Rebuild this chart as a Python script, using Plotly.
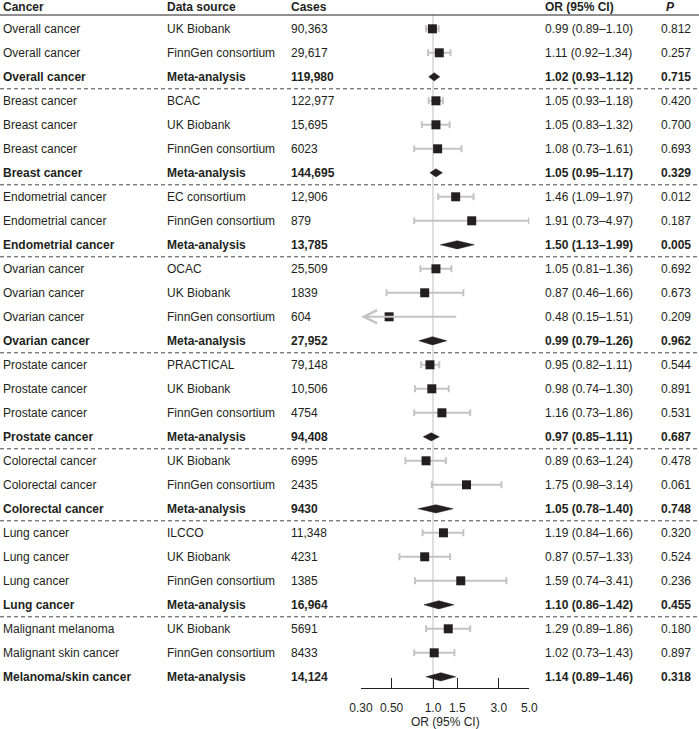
import math
import plotly.graph_objects as go

# data
cancer = [
    "Overall cancer", "Overall cancer", "Overall cancer",
    "Breast cancer", "Breast cancer", "Breast cancer", "Breast cancer",
    "Endometrial cancer", "Endometrial cancer", "Endometrial cancer",
    "Ovarian cancer", "Ovarian cancer", "Ovarian cancer", "Ovarian cancer",
    "Prostate cancer", "Prostate cancer", "Prostate cancer", "Prostate cancer",
    "Colorectal cancer", "Colorectal cancer", "Colorectal cancer",
    "Lung cancer", "Lung cancer", "Lung cancer", "Lung cancer",
    "Malignant melanoma", "Malignant skin cancer", "Melanoma/skin cancer",
]
source = [
    "UK Biobank", "FinnGen consortium", "Meta-analysis",
    "BCAC", "UK Biobank", "FinnGen consortium", "Meta-analysis",
    "EC consortium", "FinnGen consortium", "Meta-analysis",
    "OCAC", "UK Biobank", "FinnGen consortium", "Meta-analysis",
    "PRACTICAL", "UK Biobank", "FinnGen consortium", "Meta-analysis",
    "UK Biobank", "FinnGen consortium", "Meta-analysis",
    "ILCCO", "UK Biobank", "FinnGen consortium", "Meta-analysis",
    "UK Biobank", "FinnGen consortium", "Meta-analysis",
]
cases = [
    "90,363", "29,617", "119,980",
    "122,977", "15,695", "6023", "144,695",
    "12,906", "879", "13,785",
    "25,509", "1839", "604", "27,952",
    "79,148", "10,506", "4754", "94,408",
    "6995", "2435", "9430",
    "11,348", "4231", "1385", "16,964",
    "5691", "8433", "14,124",
]
or_val = [0.99, 1.11, 1.02, 1.05, 1.05, 1.08, 1.05, 1.46, 1.91, 1.50,
          1.05, 0.87, 0.48, 0.99, 0.95, 0.98, 1.16, 0.97, 0.89, 1.75, 1.05,
          1.19, 0.87, 1.59, 1.10, 1.29, 1.02, 1.14]
ci_lo = [0.89, 0.92, 0.93, 0.93, 0.83, 0.73, 0.95, 1.09, 0.73, 1.13,
         0.81, 0.46, 0.15, 0.79, 0.82, 0.74, 0.73, 0.85, 0.63, 0.98, 0.78,
         0.84, 0.57, 0.74, 0.86, 0.89, 0.73, 0.89]
ci_hi = [1.10, 1.34, 1.12, 1.18, 1.32, 1.61, 1.17, 1.97, 4.97, 1.99,
         1.36, 1.66, 1.51, 1.26, 1.11, 1.30, 1.86, 1.11, 1.24, 3.14, 1.40,
         1.66, 1.33, 3.41, 1.42, 1.86, 1.43, 1.46]
p_val = ["0.812", "0.257", "0.715", "0.420", "0.700", "0.693", "0.329",
         "0.012", "0.187", "0.005", "0.692", "0.673", "0.209", "0.962",
         "0.544", "0.891", "0.531", "0.687", "0.478", "0.061", "0.748",
         "0.320", "0.524", "0.236", "0.455", "0.180", "0.897", "0.318"]
group_sizes = [3, 4, 3, 4, 4, 3, 4, 3]
tick_vals = [0.3, 0.5, 1.0, 1.5, 3.0, 5.0]
tick_text = ["0.30", "0.50", "1.0", "1.5", "3.0", "5.0"]

x_min, x_max = 0.3, 5.0
W, H = 699, 729
row0, row_h = 28.8, 24.0

def row_of(px):
    return (px - row0) / row_h

FONT = "Liberation Sans, Arial, sans-serif"
INK = "#231f20"
FS = 12

rows = list(range(len(cancer)))
is_meta = [s == "Meta-analysis" for s in source]
study = [i for i in rows if not is_meta[i]]
meta = [i for i in rows if is_meta[i]]

fig = go.Figure()

# reference line at OR = 1
fig.add_trace(go.Scatter(
    x=[1, 1], y=[row_of(15), row_of(688)], mode="lines",
    line=dict(color="#d4d4d4", width=1.5), hoverinfo="skip", showlegend=False
))

# confidence intervals of individual studies (clipped ones become arrows)
ok = [i for i in study if ci_lo[i] >= x_min and ci_hi[i] <= x_max]
fig.add_trace(go.Scatter(
    x=[or_val[i] for i in ok], y=ok, mode="markers",
    marker=dict(size=1, color="rgba(0,0,0,0)"),
    error_x=dict(type="data", symmetric=False,
                 array=[ci_hi[i] - or_val[i] for i in ok],
                 arrayminus=[or_val[i] - ci_lo[i] for i in ok],
                 color="#c4c4c4", thickness=2, width=3.5),
    hoverinfo="skip", showlegend=False
))
clipped = [i for i in study if i not in ok]
for i in clipped:
    fig.add_annotation(
        x=math.log10(max(ci_lo[i], x_min)), y=i,
        ax=math.log10(min(ci_hi[i], x_max)), ay=i,
        xref="x", yref="y", axref="x", ayref="y",
        text="", showarrow=True, arrowhead=5, arrowsize=1.3,
        arrowwidth=2, arrowcolor="#c4c4c4", standoff=0, startstandoff=0
    )

# study estimates
fig.add_trace(go.Scatter(
    x=[or_val[i] for i in study], y=study, mode="markers",
    marker=dict(symbol="square", size=9, color=INK),
    hoverinfo="skip", showlegend=False
))

# meta-analysis diamonds
dh = 0.17
dx, dy = [], []
for i in meta:
    dx += [ci_lo[i], or_val[i], ci_hi[i], or_val[i], ci_lo[i], None]
    dy += [i, i - dh, i, i + dh, i, None]
fig.add_trace(go.Scatter(
    x=dx, y=dy, mode="lines", fill="toself", fillcolor=INK,
    line=dict(color=INK, width=0.5), hoverinfo="skip", showlegend=False
))

# table text
col_x = {"cancer": 2, "source": 166, "cases": 290, "or": 544, "p": 660}
header = [("Cancer", 2), ("Data source", 166), ("Cases", 290),
          ("OR (95% CI)", 544), ("<i>P</i>", 665)]
for txt, px in header:
    fig.add_annotation(x=px / W, y=row_of(6.5), xref="paper", yref="y",
                       text=f"<b>{txt}</b>", showarrow=False, xanchor="left",
                       yanchor="middle", borderpad=0,
                       font=dict(family=FONT, size=FS, color=INK))

for i in rows:
    cells = [
        (cancer[i], col_x["cancer"]),
        (source[i], col_x["source"]),
        (cases[i], col_x["cases"]),
        (f"{or_val[i]:.2f} ({ci_lo[i]:.2f}\u2013{ci_hi[i]:.2f})", col_x["or"]),
        (p_val[i], col_x["p"]),
    ]
    for txt, px in cells:
        if is_meta[i]:
            txt = f"<b>{txt}</b>"
        fig.add_annotation(x=px / W, y=i, xref="paper", yref="y",
                           text=txt, showarrow=False, xanchor="left",
                           yanchor="middle", borderpad=0,
                           font=dict(family=FONT, size=FS, color=INK))

# header rule and dashed group separators
shapes = [dict(type="line", xref="paper", yref="y", x0=0, x1=1,
               y0=row_of(15), y1=row_of(15), line=dict(color=INK, width=1))]
end = -1
for g in group_sizes[:-1]:
    end += g
    shapes.append(dict(type="line", xref="paper", yref="y", x0=0, x1=1,
                       y0=end + 0.5, y1=end + 0.5,
                       line=dict(color="#444444", width=1, dash="4px,3px")))

# axis title
fig.add_annotation(x=445 / W, y=row_of(722), xref="paper", yref="y",
                   text="OR (95% CI)", showarrow=False, xanchor="center",
                   yanchor="middle", font=dict(family=FONT, size=FS, color=INK))

fig.update_layout(
    width=W, height=H,
    margin=dict(l=0, r=0, t=0, b=0, pad=0, autoexpand=False),
    paper_bgcolor="white", plot_bgcolor="rgba(0,0,0,0)",
    shapes=shapes,
    font=dict(family=FONT, size=FS, color=INK),
    xaxis=dict(
        type="log", range=[math.log10(x_min), math.log10(x_max)],
        domain=[361 / W, 529.3 / W], anchor="free",
        position=1 - 688 / H, automargin=False,
        showline=True, linecolor=INK, linewidth=1,
        ticks="inside", ticklen=10, tickwidth=1, tickcolor=INK,
        tickvals=tick_vals, ticktext=tick_text, ticklabelstandoff=9,
        showgrid=False, zeroline=False,
        tickfont=dict(family=FONT, size=FS, color=INK),
    ),
    yaxis=dict(range=[row_of(H), row_of(0)], domain=[0, 1], visible=False,
               automargin=False, showgrid=False, zeroline=False),
)

fig.write_html(
    "out.html",
    config={"displayModeBar": False},
    post_script="document.body.style.margin='0';document.body.style.overflow='hidden';",
)
